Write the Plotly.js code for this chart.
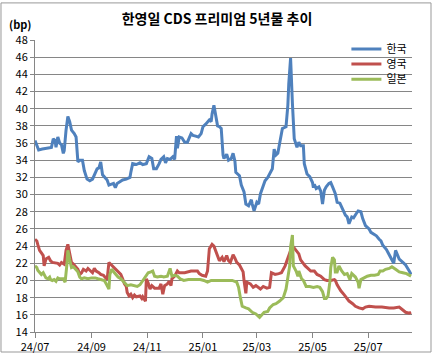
<!DOCTYPE html>
<html><head><meta charset="utf-8">
<script src="https://cdn.plot.ly/plotly-3.0.1.min.js"></script>
<style>html,body{margin:0;padding:0;background:#fff}#chart{width:434px;height:355px}</style>
</head><body><div id="chart"></div>
<script>
const seriesNames = ['한국', '영국', '일본'];
const xTickFormat = '%y/%m';

const koreaDates = ['2024-07-01','2024-07-03','2024-07-05','2024-07-09','2024-07-15','2024-07-19','2024-07-21','2024-07-23','2024-07-24','2024-07-26','2024-07-28','2024-07-30','2024-08-01','2024-08-02','2024-08-04','2024-08-06','2024-08-08','2024-08-10','2024-08-13','2024-08-15','2024-08-17','2024-08-19','2024-08-22','2024-08-24','2024-08-27','2024-08-30','2024-09-02','2024-09-05','2024-09-07','2024-09-09','2024-09-11','2024-09-13','2024-09-15','2024-09-18','2024-09-20','2024-09-23','2024-09-25','2024-09-27','2024-09-29','2024-10-02','2024-10-05','2024-10-09','2024-10-13','2024-10-14','2024-10-16','2024-10-20','2024-10-24','2024-10-27','2024-10-31','2024-11-03','2024-11-06','2024-11-08','2024-11-11','2024-11-14','2024-11-16','2024-11-19','2024-11-21','2024-11-23','2024-11-26','2024-11-29','2024-12-01','2024-12-03','2024-12-04','2024-12-06','2024-12-09','2024-12-12','2024-12-15','2024-12-19','2024-12-21','2024-12-24','2024-12-27','2024-12-30','2025-01-01','2025-01-04','2025-01-06','2025-01-08','2025-01-10','2025-01-11','2025-01-13','2025-01-15','2025-01-17','2025-01-19','2025-01-21','2025-01-23','2025-01-24','2025-01-27','2025-01-29','2025-02-01','2025-02-03','2025-02-05','2025-02-06','2025-02-10','2025-02-12','2025-02-15','2025-02-17','2025-02-20','2025-02-23','2025-02-24','2025-02-26','2025-03-01','2025-03-03','2025-03-05','2025-03-08','2025-03-10','2025-03-13','2025-03-16','2025-03-18','2025-03-20','2025-03-22','2025-03-24','2025-03-26','2025-03-27','2025-03-29','2025-04-02','2025-04-04','2025-04-05','2025-04-07','2025-04-09','2025-04-10','2025-04-11','2025-04-14','2025-04-16','2025-04-18','2025-04-21','2025-04-22','2025-04-25','2025-04-28','2025-05-01','2025-05-02','2025-05-03','2025-05-05','2025-05-08','2025-05-10','2025-05-12','2025-05-14','2025-05-16','2025-05-19','2025-05-21','2025-05-23','2025-05-26','2025-05-28','2025-05-31','2025-06-03','2025-06-06','2025-06-08','2025-06-10','2025-06-13','2025-06-15','2025-06-18','2025-06-20','2025-06-23','2025-06-25','2025-06-28','2025-07-02','2025-07-04','2025-07-07','2025-07-10','2025-07-13','2025-07-15','2025-07-17','2025-07-21','2025-07-23','2025-07-26','2025-07-29','2025-07-31','2025-08-02','2025-08-04','2025-08-08','2025-08-11','2025-08-15','2025-08-17'];
const koreaValues = [36.3,35.7,35.2,35.3,35.4,35.5,36.5,36.3,35.5,36.7,36.0,35.8,34.8,35.1,37.5,39.1,38.5,37.5,37.1,36.7,33.8,34.0,34.0,32.8,31.8,31.6,31.8,32.6,33.0,33.1,33.8,32.3,32.1,31.7,31.1,31.2,31.3,30.8,31.3,31.5,31.7,31.8,32.0,32.6,33.6,33.5,33.7,33.5,33.6,34.4,34.2,33.0,33.0,33.6,34.1,34.4,33.7,34.2,34.1,34.4,34.1,36.8,35.4,36.7,36.6,36.1,36.1,37.1,36.9,36.8,36.7,37.1,37.9,38.2,38.4,38.7,38.5,39.4,40.4,39.2,38.0,37.9,37.7,34.6,34.2,34.7,34.0,34.2,34.8,33.9,32.6,32.2,31.1,30.3,28.9,28.7,29.4,28.9,28.1,29.1,28.9,30.1,30.9,31.6,32.0,32.6,33.0,35.3,34.6,34.8,36.1,36.9,37.7,37.9,40.4,42.9,45.9,40.6,37.5,36.5,35.5,36.1,35.7,35.7,33.6,32.4,32.1,31.4,30.8,31.2,30.7,30.9,30.4,28.9,30.5,30.9,31.3,31.4,30.9,30.1,29.1,29.0,28.3,27.6,27.4,26.6,27.4,27.3,27.8,28.1,28.0,27.2,26.4,26.0,25.6,25.4,25.2,24.8,24.6,24.1,23.6,23.2,22.5,22.0,23.5,23.0,22.5,22.1,21.8,21.1,20.7];

const ukDates = ['2024-07-01','2024-07-03','2024-07-04','2024-07-06','2024-07-08','2024-07-10','2024-07-11','2024-07-13','2024-07-16','2024-07-18','2024-07-20','2024-07-26','2024-07-28','2024-07-30','2024-08-02','2024-08-04','2024-08-06','2024-08-08','2024-08-10','2024-08-12','2024-08-14','2024-08-17','2024-08-19','2024-08-21','2024-08-23','2024-08-26','2024-08-28','2024-09-02','2024-09-04','2024-09-06','2024-09-09','2024-09-11','2024-09-14','2024-09-16','2024-09-18','2024-09-20','2024-09-22','2024-09-24','2024-09-27','2024-09-29','2024-10-03','2024-10-05','2024-10-07','2024-10-09','2024-10-10','2024-10-12','2024-10-14','2024-10-16','2024-10-18','2024-10-20','2024-10-24','2024-10-26','2024-10-27','2024-10-30','2024-10-31','2024-11-02','2024-11-04','2024-11-06','2024-11-09','2024-11-14','2024-11-16','2024-11-18','2024-11-20','2024-11-23','2024-11-25','2024-11-27','2024-11-28','2024-12-01','2024-12-04','2024-12-06','2024-12-12','2024-12-19','2024-12-26','2024-12-28','2024-12-31','2025-01-04','2025-01-06','2025-01-08','2025-01-11','2025-01-13','2025-01-15','2025-01-17','2025-01-19','2025-01-22','2025-01-24','2025-01-27','2025-01-29','2025-01-31','2025-02-03','2025-02-05','2025-02-07','2025-02-10','2025-02-14','2025-02-15','2025-02-17','2025-02-18','2025-02-22','2025-02-25','2025-02-28','2025-03-05','2025-03-08','2025-03-12','2025-03-15','2025-03-17','2025-03-21','2025-03-25','2025-03-28','2025-04-01','2025-04-03','2025-04-05','2025-04-07','2025-04-08','2025-04-10','2025-04-13','2025-04-16','2025-04-18','2025-04-20','2025-04-23','2025-04-26','2025-04-29','2025-05-03','2025-05-06','2025-05-10','2025-05-14','2025-05-17','2025-05-21','2025-05-25','2025-05-26','2025-05-28','2025-06-01','2025-06-05','2025-06-08','2025-06-10','2025-06-14','2025-06-17','2025-06-21','2025-06-25','2025-06-28','2025-07-02','2025-07-09','2025-07-16','2025-07-24','2025-07-29','2025-08-04','2025-08-08','2025-08-11','2025-08-15','2025-08-17'];
const ukValues = [24.8,24.6,24.2,23.5,23.2,22.9,21.7,22.5,22.7,22.3,22.1,22.0,21.8,22.1,21.9,23.5,24.2,23.3,22.1,21.9,21.7,21.3,20.7,20.9,21.3,21.1,21.4,20.9,21.4,21.1,20.9,20.7,20.6,20.3,20.1,22.1,21.9,21.7,21.4,21.1,20.7,20.2,19.6,19.3,18.6,18.2,18.4,18.0,18.3,18.1,18.2,17.9,18.1,17.6,20.2,19.7,19.0,19.4,19.1,19.1,19.6,18.4,19.4,19.6,19.9,19.4,20.2,20.5,21.1,20.9,20.9,21.1,21.1,20.8,20.6,20.5,21.1,23.7,24.2,24.0,23.4,22.8,22.3,22.7,22.2,22.9,22.3,22.1,23.0,22.6,22.1,21.8,21.0,20.0,18.5,19.8,19.6,19.2,19.4,19.0,19.3,19.1,19.2,20.9,20.7,20.8,20.9,21.7,22.3,22.7,23.5,24.0,23.9,23.5,23.1,22.4,22.1,21.7,21.4,21.1,21.1,20.7,20.5,20.1,20.0,20.0,20.1,20.0,19.5,18.8,18.3,17.9,17.6,17.3,17.0,16.8,16.7,16.9,17.0,16.9,16.9,16.8,16.8,16.9,16.6,16.3,16.2,16.3];

const japanDates = ['2024-07-01','2024-07-03','2024-07-04','2024-07-06','2024-07-08','2024-07-10','2024-07-13','2024-07-15','2024-07-17','2024-07-18','2024-07-20','2024-07-22','2024-07-24','2024-07-26','2024-07-28','2024-08-01','2024-08-02','2024-08-03','2024-08-05','2024-08-06','2024-08-08','2024-08-10','2024-08-12','2024-08-14','2024-08-17','2024-08-19','2024-08-21','2024-08-24','2024-08-28','2024-09-01','2024-09-05','2024-09-08','2024-09-12','2024-09-15','2024-09-17','2024-09-19','2024-09-20','2024-09-21','2024-09-23','2024-09-26','2024-09-28','2024-09-30','2024-10-03','2024-10-05','2024-10-08','2024-10-10','2024-10-14','2024-10-17','2024-10-21','2024-10-24','2024-10-27','2024-10-30','2024-11-02','2024-11-05','2024-11-07','2024-11-09','2024-11-12','2024-11-16','2024-11-19','2024-11-23','2024-11-26','2024-11-28','2024-12-01','2024-12-04','2024-12-07','2024-12-11','2024-12-16','2024-12-23','2024-12-29','2025-01-02','2025-01-06','2025-01-10','2025-01-18','2025-01-26','2025-02-02','2025-02-07','2025-02-09','2025-02-11','2025-02-13','2025-02-17','2025-02-20','2025-02-24','2025-02-28','2025-03-04','2025-03-07','2025-03-09','2025-03-13','2025-03-15','2025-03-19','2025-03-22','2025-03-26','2025-03-30','2025-04-02','2025-04-04','2025-04-06','2025-04-07','2025-04-09','2025-04-10','2025-04-13','2025-04-15','2025-04-16','2025-04-19','2025-04-21','2025-04-24','2025-04-28','2025-05-02','2025-05-06','2025-05-09','2025-05-12','2025-05-14','2025-05-16','2025-05-18','2025-05-20','2025-05-21','2025-05-23','2025-05-25','2025-05-26','2025-05-28','2025-05-30','2025-06-02','2025-06-05','2025-06-08','2025-06-11','2025-06-13','2025-06-17','2025-06-20','2025-06-21','2025-06-23','2025-06-26','2025-06-30','2025-07-04','2025-07-08','2025-07-12','2025-07-14','2025-07-17','2025-07-20','2025-07-24','2025-07-27','2025-07-31','2025-08-04','2025-08-08','2025-08-12','2025-08-17'];
const japanValues = [21.7,21.5,21.2,20.9,20.7,20.9,20.3,20.2,20.4,20.1,20.0,20.1,19.9,20.3,20.2,20.2,20.0,19.8,21.9,23.5,22.4,21.5,21.6,21.4,21.0,20.4,20.2,20.3,20.2,20.3,20.3,20.2,20.1,20.0,19.6,19.2,19.0,20.7,21.3,20.9,20.6,20.4,20.2,20.0,19.6,19.4,19.5,19.4,19.3,19.5,20.0,20.5,20.9,21.0,21.1,20.5,20.4,20.5,20.4,20.5,21.4,20.5,20.6,20.5,20.2,20.0,20.1,20.1,20.1,20.0,19.8,20.0,20.0,20.0,20.0,19.8,19.2,18.0,17.0,16.8,16.7,16.3,16.1,15.7,16.1,16.3,16.4,16.8,17.2,17.3,17.6,18.0,19.0,20.2,21.7,23.9,25.3,21.7,21.1,20.5,21.1,20.2,20.0,19.3,19.3,19.2,19.3,19.2,18.7,17.9,17.9,18.2,19.8,21.5,22.7,22.4,21.0,21.0,21.7,21.1,20.7,20.8,20.1,20.8,20.4,19.8,19.1,20.1,20.3,20.5,20.6,20.6,20.7,21.1,21.1,21.3,21.4,21.6,21.3,21.0,20.9,20.8,20.5];

const colors = ['#4F81BD', '#C0504D', '#9BBB59'];
const font = "'Noto Sans CJK KR', 'Noto Sans', sans-serif";
const legendIds = ['legend', 'legend2', 'legend3'];
const legendY = [0.969, 0.918, 0.866];

function mk(x, y, i) {
  return {x: x, y: y, type: 'scatter', mode: 'lines', name: seriesNames[i], legend: legendIds[i],
    line: {color: colors[i], width: 3}, hoverinfo: 'skip'};
}
const data = [mk(koreaDates, koreaValues, 0), mk(ukDates, ukValues, 1), mk(japanDates, japanValues, 2)];

const layout = {
  width: 434, height: 355,
  margin: {l: 35, r: 22, t: 40, b: 23, pad: 0},
  paper_bgcolor: '#fff', plot_bgcolor: '#fff',
  font: {family: font, size: 11, color: '#000'},
  title: {text: '<b>한영일 CDS 프리미엄 5년물 추이</b>', font: {family: font, size: 14, color: '#000'}, x: 0.5, xanchor: 'center', y: 0.945, yanchor: 'middle'},
  showlegend: true,
  xaxis: {type: 'date', range: ['2024-07-01', '2025-08-18'], tick0: '2024-07-01', dtick: 'M2', tickformat: xTickFormat,
    showgrid: false, showline: true, linecolor: '#868686', linewidth: 1, ticks: 'outside', ticklen: 5, tickcolor: '#868686',
    tickfont: {size: 11}, zeroline: false, fixedrange: true},
  yaxis: {range: [14, 48], dtick: 2, tick0: 14, showgrid: true, gridcolor: '#868686', gridwidth: 1,
    showline: true, linecolor: '#868686', linewidth: 1, ticks: 'outside', ticklen: 4, tickcolor: '#868686',
    tickfont: {size: 11}, zeroline: false, fixedrange: true},
  annotations: [{text: '<b>(bp)</b>', xref: 'paper', yref: 'paper', x: -0.075, y: 1.055, xanchor: 'left', yanchor: 'middle', showarrow: false, font: {size: 11, family: font}}],
  shapes: [{type: 'rect', xref: 'paper', yref: 'paper', x0: -0.0902, x1: 1.0504, y0: -0.0685, y1: 1.127, line: {color: '#999', width: 1}, fillcolor: 'rgba(0,0,0,0)', layer: 'below'}]
};
legendIds.forEach(function (id, i) {
  layout[id] = {x: 0.826, y: legendY[i], xanchor: 'left', yanchor: 'middle', bgcolor: 'rgba(0,0,0,0)',
    font: {size: 11, family: font}, itemwidth: 30, borderwidth: 0};
});
Plotly.newPlot('chart', data, layout, {displayModeBar: false, staticPlot: true});
</script>
</body></html>
